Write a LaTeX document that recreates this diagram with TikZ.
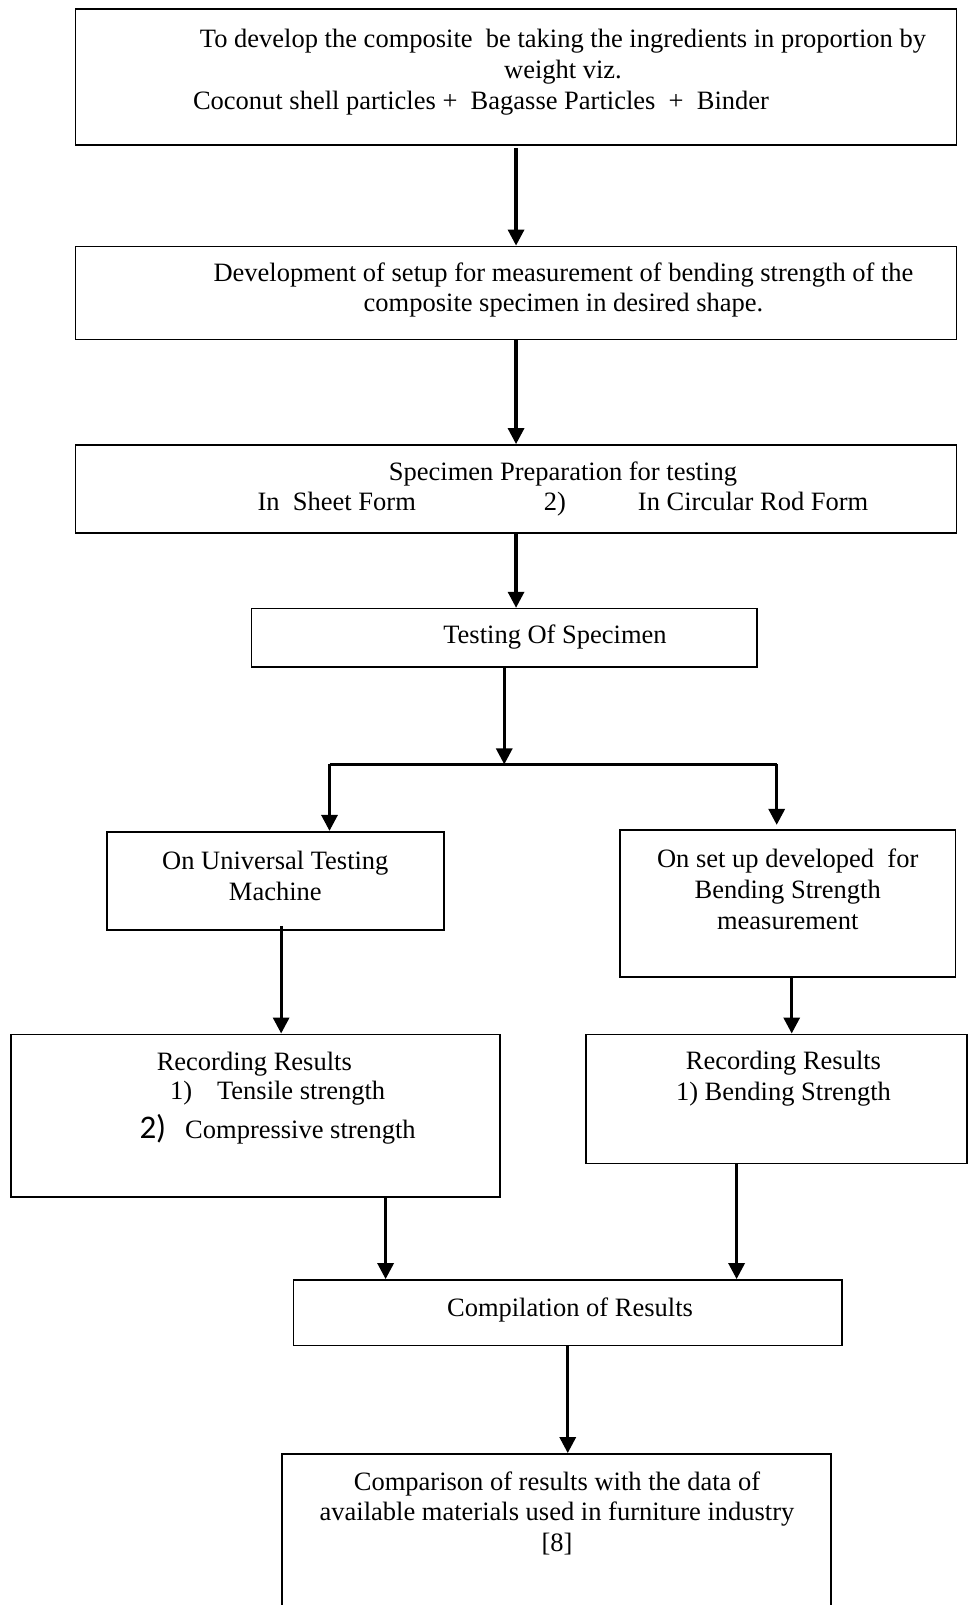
\documentclass[tikz,border=0pt]{standalone}
\usepackage{fontspec}
\setmainfont{Liberation Serif}
\newfontfamily\calibri{Carlito}
\usetikzlibrary{arrows.meta}

\begin{document}
\begin{tikzpicture}[x=1pt,y=-1pt,
	box/.style={draw,line width=1.6pt,anchor=north west,inner sep=0pt},
	txt/.style={align=center,inner sep=0pt,font=\fontsize{26.5}{30.7}\selectfont},
	arr/.style={line width=3.2pt,-{Triangle[length=16pt,width=16pt]}}]

	\useasboundingbox (0,0) rectangle (968,1605);
	\clip (0,0) rectangle (968,1605);

	\node[box,minimum width=881.1pt,minimum height=136.1pt] (compose) at (74.7,8.2) {};
	\node[box,minimum width=881.1pt,minimum height=93.1pt] (setup) at (74.7,245.6) {};
	\node[box,minimum width=881.1pt,minimum height=88pt] (prep) at (74.7,444.1) {};
	\node[box,minimum width=505.5pt,minimum height=58.4pt] (testing) at (250.7,607.8) {};
	\node[box,minimum width=336.7pt,minimum height=98.3pt] (utm) at (106.4,830.9) {};
	\node[box,minimum width=335.6pt,minimum height=147.3pt] (bendsetup) at (619.1,828.9) {};
	\node[box,minimum width=489.2pt,minimum height=162.7pt] (recutm) at (10.2,1033.5) {};
	\node[box,minimum width=381pt,minimum height=129pt] (recbend) at (585.3,1033.5) {};
	\node[box,minimum width=548.5pt,minimum height=65.5pt] (compile) at (292.7,1279.1) {};
	\node[box,minimum width=548.5pt,minimum height=180pt] (compare) at (281.4,1453.1) {};

	\node[txt] (composetxt) at (563,56.7) {To develop the composite\ \ be taking the ingredients in proportion by\\weight viz.};
	\node[txt] (mixtxt) at (481,102.8) {Coconut shell particles +\ \ Bagasse Particles\ \ +\ \ Binder};
	\node[txt] (setuptxt) at (563.5,290) {Development of setup for measurement of bending strength of the\\composite specimen in desired shape.};
	\node[txt] (preptxt) at (563,489) {Specimen Preparation for testing\\In\ \ Sheet Form\hspace{128pt}2)\hspace{72pt}In Circular Rod Form};
	\node[txt] (testingtxt) at (555,637) {Testing Of Specimen};
	\node[txt] (utmtxt) at (275.3,875.9) {On Universal Testing\\Machine};
	\node[txt] (bendsetuptxt) at (787.7,889.4) {On set up developed\ \ for\\Bending Strength\\measurement};
	\node[txt] (recutmtxt) at (254.3,1063.7) {Recording Results};
	\node[txt,anchor=west] (tensiletxt) at (169.8,1093.5) {1)\hspace{25pt}Tensile strength};
	\node[txt,anchor=west] (compresstxt) at (139.3,1129) {{\calibri\fontsize{33}{33}\selectfont 2)}\hspace{19pt}Compressive strength};
	\node[txt] (recbendtxt) at (783.5,1078.5) {Recording Results\\1) Bending Strength};
	\node[txt] (compiletxt) at (570,1310.3) {Compilation of Results};
	\node[txt] (comparetxt) at (557,1513.4) {Comparison of results with the data of\\available materials used in furniture industry\\{[8]}};

	\coordinate (lft) at (329.5,764.4);
	\coordinate (rgt) at (776.7,764.4);

	\draw[arr] ([yshift=-2pt]compose.south) -- (setup.north);
	\draw[arr] (setup.south) -- (prep.north);
	\draw[arr] (prep.south) -- (prep.south |- testing.north);
	\draw[arr] (testing.south) -- (testing.south |- lft);
	\draw[line width=3.2pt] (lft) -- (rgt);
	\draw[arr] (lft) -- (lft |- utm.north);
	\draw[arr] (rgt) -- ([yshift=4pt]rgt |- bendsetup.north);
	\draw[arr] ([xshift=5.6pt,yshift=5pt]utm.south) -- ([xshift=5.6pt]utm.south |- recutm.north);
	\draw[arr] ([xshift=4pt]bendsetup.south) -- ([xshift=4pt]bendsetup.south |- recbend.north);
	\draw[arr] ([xshift=130pt]recutm.south) -- ([xshift=130pt]recutm.south |- compile.north);
	\draw[arr] ([xshift=-40pt]recbend.south) -- ([xshift=-40pt]recbend.south |- compile.north);
	\draw[arr] (compile.south) -- (compile.south |- compare.north);

	%\draw (compare.south west) -- (compare.south east);

\end{tikzpicture}
\end{document}
